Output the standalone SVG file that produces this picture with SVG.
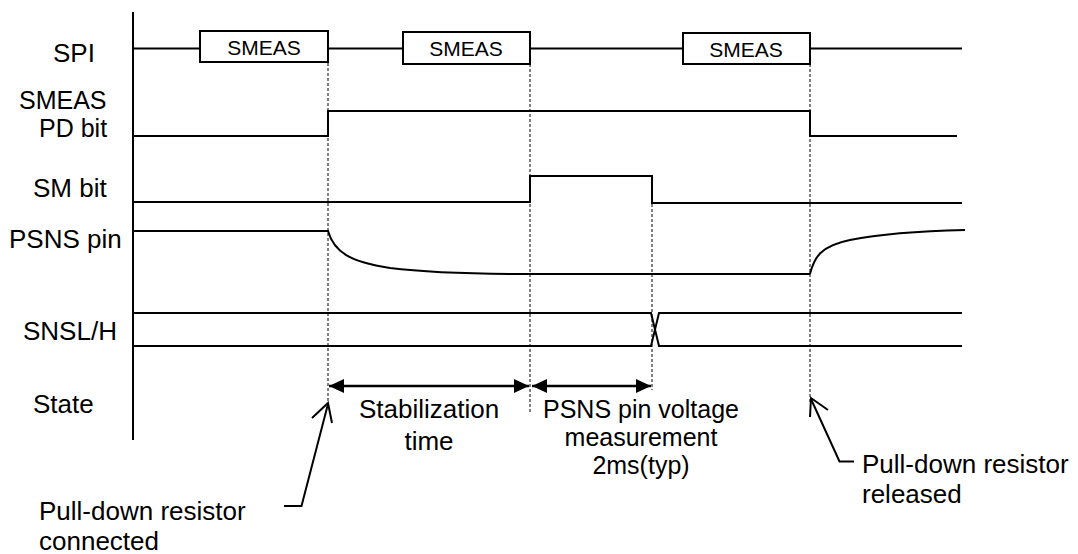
<svg xmlns="http://www.w3.org/2000/svg" width="1078" height="554" viewBox="0 0 1078 554">
<defs>
<style>
text{font-family:"Liberation Sans",Arial,sans-serif;fill:#000}
.lbl{font-size:26px}
.lbl2{font-size:25px}
.box{font-size:21px;text-anchor:middle}
.mid{text-anchor:middle}
.sig{fill:none;stroke:#000;stroke-width:2}
.dash{fill:none;stroke:#000;stroke-width:1;stroke-dasharray:3,2}
.arr{fill:none;stroke:#000;stroke-width:2.5}
.lead{fill:none;stroke:#000;stroke-width:2}
</style>
<marker id="ah" viewBox="0 0 15 14" refX="15" refY="7" markerWidth="15" markerHeight="14" markerUnits="userSpaceOnUse" orient="auto-start-reverse">
<path d="M0,0 L15,7 L0,14 z" fill="#000"/>
</marker>
</defs>
<rect width="1078" height="554" fill="#fff"/>

<g id="labels">
<text class="lbl" x="53" y="62">SPI</text>
<text class="lbl2"><tspan x="19" y="109">SMEAS</tspan><tspan x="39" y="137">PD bit</tspan></text>
<text class="lbl" x="33" y="197">SM bit</text>
<text class="lbl" x="9" y="248">PSNS pin</text>
<text class="lbl" x="23" y="340">SNSL/H</text>
<text class="lbl" x="33" y="413">State</text>
</g>

<g id="axis">
<line class="sig" x1="133" y1="12" x2="133" y2="440"/>
</g>

<g id="spi">
<path class="sig" d="M133,48.5 H200 M328,48.5 H403 M530,48.5 H683 M810,48.5 H962"/>
<rect class="sig" x="200" y="31" width="128" height="31"/>
<rect class="sig" x="403" y="32" width="127" height="32"/>
<rect class="sig" x="683" y="33" width="127" height="31"/>
<text class="box" x="264" y="55">SMEAS</text>
<text class="box" x="466" y="56">SMEAS</text>
<text class="box" x="746" y="57">SMEAS</text>
</g>

<g id="pdbit">
<path class="sig" d="M133,136 H328 V111 H810 V136 H957"/>
</g>

<g id="smbit">
<path class="sig" d="M133,202 H530 V176 H652 V203 H962"/>
</g>

<g id="psns">
<path class="sig" d="M133,231 H328 C334,252 350,262 390,268 C430,273 470,274 530,274 L810,274"/>
<path class="sig" d="M810,274 C814,258 820,246 850,240 C880,234 920,231 965,230"/>
</g>

<g id="snsl">
<path class="sig" d="M133,313 H651 L659,346 H962"/>
<path class="sig" d="M133,346 H651 L659,313 H962"/>
</g>

<g id="connectors">
<line class="dash" x1="328" y1="63" x2="328" y2="403"/>
<line class="dash" x1="530" y1="64" x2="530" y2="412"/>
<line class="dash" x1="652" y1="204" x2="652" y2="390"/>
<line class="dash" x1="810" y1="64" x2="810" y2="402"/>
<line class="arr" x1="329" y1="386" x2="529" y2="386" marker-start="url(#ah)" marker-end="url(#ah)"/>
<line class="arr" x1="532" y1="386" x2="651" y2="386" marker-start="url(#ah)" marker-end="url(#ah)"/>
<path class="lead" d="M284,506 H301.5 L328,404"/>
<path class="lead" d="M312,418 L328,403 L332,423"/>
<path class="lead" d="M854,461.5 H839.5 L811,399"/>
<path class="lead" d="M810,417 L811,398 L828,410"/>
</g>

<g id="state-text">
<text class="lbl mid"><tspan x="429" y="418">Stabilization</tspan><tspan x="429" y="450">time</tspan></text>
<text class="lbl2 mid"><tspan x="641" y="418">PSNS pin voltage</tspan><tspan x="641" y="446">measurement</tspan><tspan x="641" y="474">2ms(typ)</tspan></text>
</g>

<g id="annotations">
<text class="lbl"><tspan x="39" y="520">Pull-down resistor</tspan><tspan x="39" y="550">connected</tspan></text>
<text class="lbl"><tspan x="862" y="473">Pull-down resistor</tspan><tspan x="862" y="503">released</tspan></text>
</g>
</svg>
